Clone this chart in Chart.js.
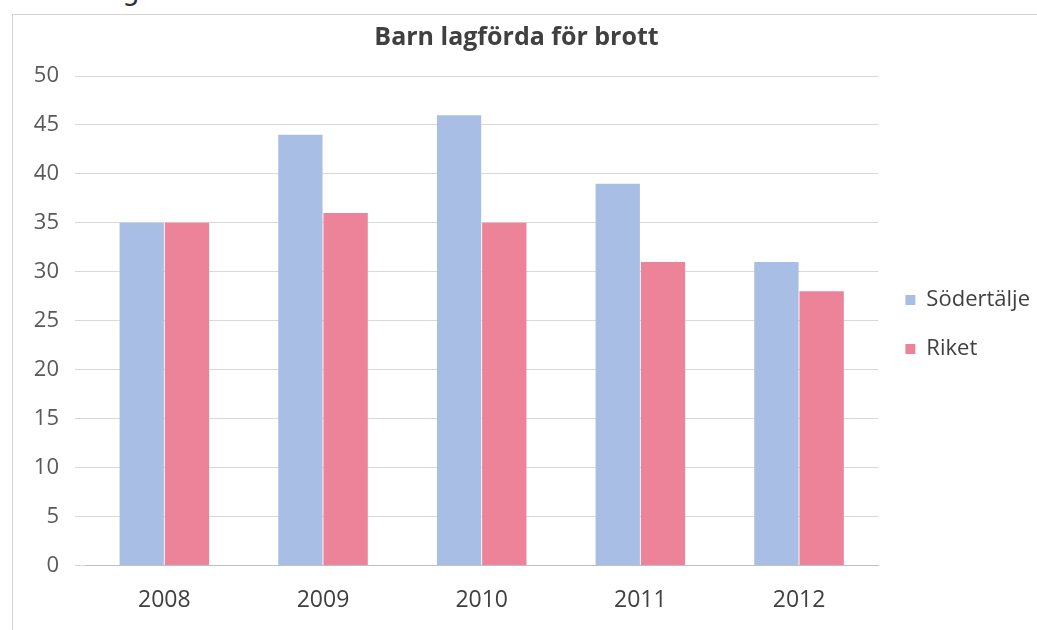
<!DOCTYPE html>
<html>
<head>
<meta charset="utf-8">
<script src="https://cdn.jsdelivr.net/npm/chart.js@4"></script>
<style>
  html, body { margin: 0; padding: 0; background: #fff; }
  body { width: 1037px; height: 630px; position: relative; overflow: hidden; font-family: "Open Sans", sans-serif; }
  #frag { position: absolute; left: 122px; top: -24px; font-family: "DejaVu Sans", sans-serif; font-size: 28px; line-height: 30px; color: #333; }
  #frame { position: absolute; left: 12px; top: 14px; width: 1030px; height: 620px; border: 1px solid #d4d4d4; box-sizing: border-box; }
  #wrap { position: absolute; left: -7px; top: 0; width: 1047px; height: 630px; }
</style>
</head>
<body>
<div id="frag">g</div>
<div id="frame"></div>
<div id="wrap"><canvas id="chart"></canvas></div>
<script>
const years = ['2008', '2009', '2010', '2011', '2012'];
const sodertalje = [35, 44, 46, 39, 31];
const riket = [35, 36, 35, 31, 28];
const yTicks = [0, 5, 10, 15, 20, 25, 30, 35, 40, 45, 50];

const ctx = document.getElementById('chart');
ctx.chart = new Chart(ctx, {
    type: 'bar',
    data: {
        labels: years,
        datasets: [{
            label: 'Södertälje',
            data: sodertalje,
            backgroundColor: '#a9bee4',
            barPercentage: 0.98,
            categoryPercentage: 0.57
        }, {
            label: 'Riket',
            data: riket,
            backgroundColor: '#ec8398',
            barPercentage: 0.98,
            categoryPercentage: 0.57
        }]
    },
    options: {
        responsive: true,
        maintainAspectRatio: false,
        animation: false,
        layout: { padding: { left: 0, right: 0, top: 14, bottom: -5 } },
        plugins: {
            title: {
                display: true,
                text: 'Barn lagförda för brott',
                color: '#404040',
                font: { family: 'Open Sans', size: 25, weight: 'bold', lineHeight: 1.2 },
                padding: { top: 9, bottom: 23 }
            },
            legend: {
                position: 'right',
                labels: {
                    color: '#404040',
                    font: { family: 'Open Sans', size: 22 },
                    boxWidth: 10,
                    boxHeight: 10,
                    padding: 27
                }
            },
            tooltip: { enabled: false }
        },
        scales: {
            y: {
                min: 0,
                max: 50,
                afterBuildTicks: axis => { axis.ticks = yTicks.map(v => ({ value: v })); },
                afterFit: axis => { axis.width = 92; },
                grid: { color: '#d9d9d9', drawTicks: true, tickLength: 10 },
                border: { display: false },
                ticks: { color: '#595959', font: { family: 'Open Sans', size: 22 }, padding: 16 }
            },
            x: {
                grid: { display: false, drawTicks: false },
                border: { color: '#bfbfbf' },
                ticks: { color: '#404040', font: { family: 'Open Sans', size: 23 }, padding: 21 }
            }
        }
    }
});
</script>
</body>
</html>
